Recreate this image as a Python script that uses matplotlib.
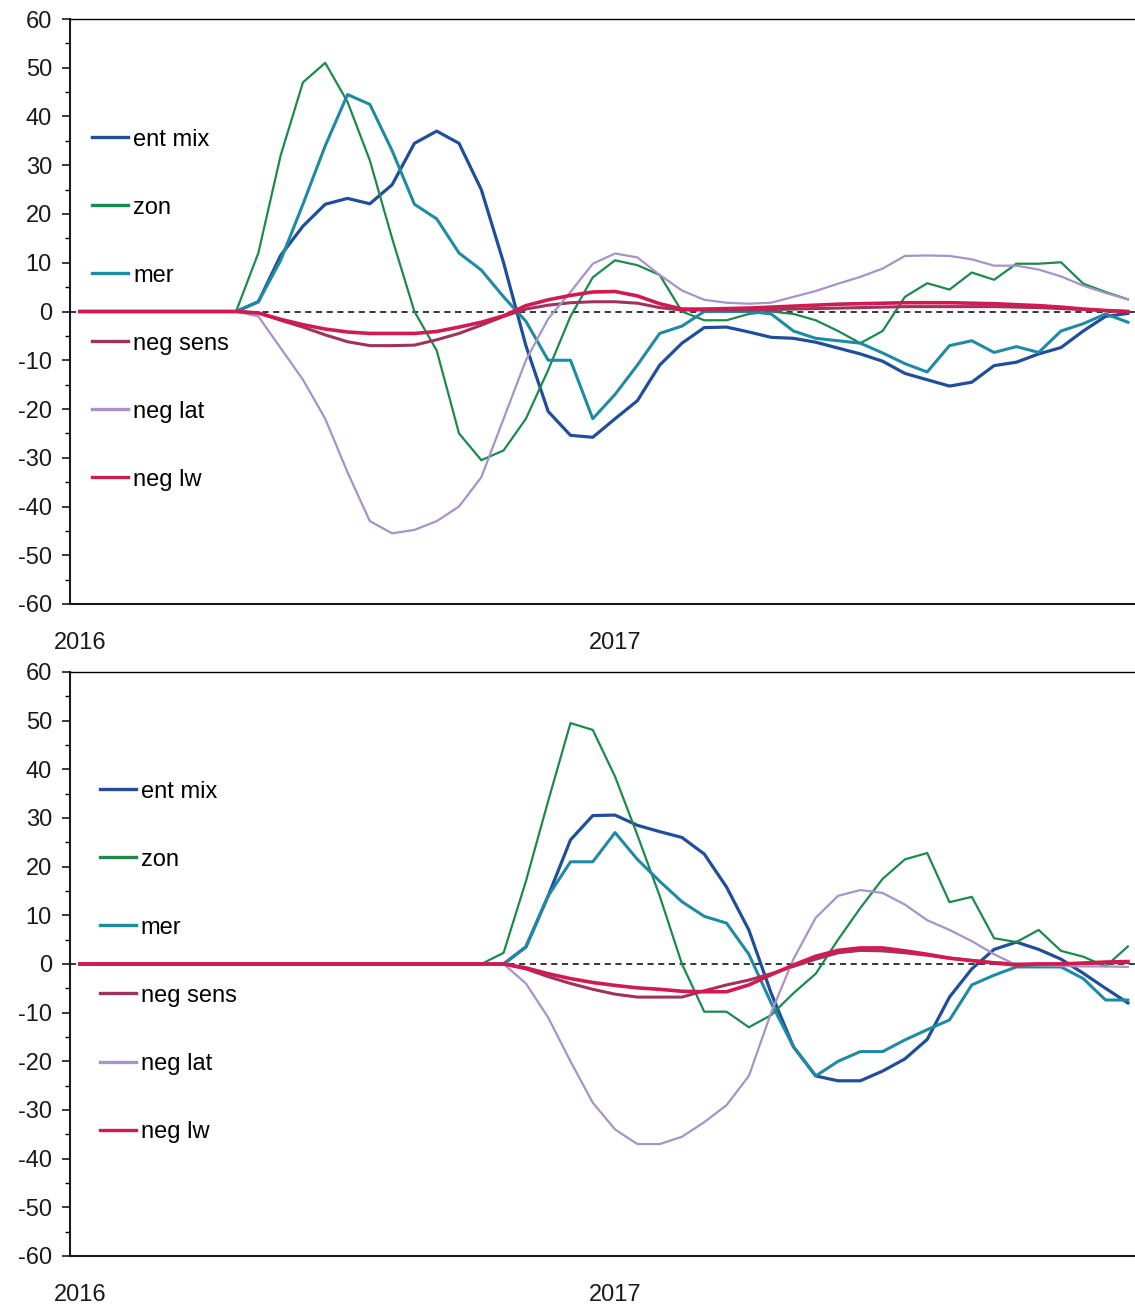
import numpy as np
import matplotlib
matplotlib.use("Agg")
import matplotlib.pyplot as plt

plt.rcParams['font.family'] = ['Liberation Sans', 'DejaVu Sans']
plt.rcParams['axes.unicode_minus'] = False

# Semi-monthly time axis, in months since January 2016
months = np.arange(48) * 0.5
year_ticks = [0, 12]
year_labels = ["2016", "2017"]

series_names = ["ent mix", "zon", "mer", "neg sens", "neg lat", "neg lw"]
series_colors = ["#1f4e9a", "#1b8a4c", "#1f8aa3", "#a0325e", "#a892c8", "#d21a50"]
series_widths = [2.3, 1.6, 2.2, 2.2, 1.6, 2.6]

# Upper panel
top_ent_mix = [0, 0, 0, 0, 0, 0, 0, 0, 2, 11.5, 17.5, 22, 23.2, 22.1, 26, 34.5,
               37, 34.5, 25, 10, -7, -20.5, -25.4, -25.8, -22, -18.3, -11, -6.5,
               -3.3, -3.2, -4.2, -5.3, -5.5, -6.3, -7.5, -8.7, -10.2, -12.7, -14,
               -15.3, -14.5, -11.1, -10.4, -8.7, -7.4, -4, -1, -0.4]
top_zon = [0, 0, 0, 0, 0, 0, 0, 0, 12, 32, 47, 51, 43, 31, 15, 0,
           -8, -25, -30.5, -28.5, -22, -12, -1, 7, 10.5, 9.5, 7.5, 0,
           -1.8, -1.8, -0.5, 0, -0.5, -1.8, -4, -6.5, -4, 3, 5.8,
           4.5, 8, 6.5, 9.8, 9.8, 10.1, 5.7, 4, 2.5]
top_mer = [0, 0, 0, 0, 0, 0, 0, 0, 2, 10.5, 22, 34, 44.5, 42.5, 33, 22,
           19, 12, 8.5, 3, -2, -10, -10, -22, -17, -11, -4.5, -3,
           0, 0, 0, -0.5, -4, -5.5, -6, -6.5, -8.5, -10.7, -12.4,
           -7, -6, -8.4, -7.2, -8.4, -4, -2.5, -0.5, -2.2]
top_neg_sens = [0, 0, 0, 0, 0, 0, 0, 0, -0.3, -1.8, -3.2, -4.8, -6.2, -7, -7, -6.9,
                -5.8, -4.5, -2.8, -1, 0.5, 1.3, 1.8, 2, 2, 1.7, 0.8, 0.3,
                0.3, 0.3, 0.3, 0.4, 0.5, 0.6, 0.7, 0.8, 0.9, 1.0, 1.0,
                1.0, 1.0, 1.0, 0.9, 0.8, 0.6, 0.4, 0.2, 0.0]
top_neg_lat = [0, 0, 0, 0, 0, 0, 0, 0, -1, -7.5, -14, -22, -33, -43, -45.5, -44.8,
               -43, -40, -34, -22, -10, -1.5, 4, 9.8, 11.9, 11.1, 7.5, 4.3,
               2.4, 1.8, 1.6, 1.8, 3, 4.2, 5.7, 7.1, 8.8, 11.4, 11.5,
               11.4, 10.7, 9.4, 9.4, 8.6, 7.2, 5.3, 3.8, 2.5]
top_neg_lw = [0, 0, 0, 0, 0, 0, 0, 0, -0.3, -1.6, -2.7, -3.6, -4.2, -4.5, -4.5, -4.5,
              -4.1, -3.2, -2.2, -0.9, 1.2, 2.4, 3.3, 4, 4.1, 3.2, 1.6, 0.5,
              0.5, 0.6, 0.7, 0.9, 1.1, 1.3, 1.5, 1.6, 1.7, 1.8, 1.8,
              1.8, 1.7, 1.6, 1.4, 1.2, 0.9, 0.5, 0.2, 0.0]

# Lower panel
bot_ent_mix = [0] * 20 + [3.5, 14, 25.5, 30.5, 30.6, 28.5, 27.2, 26,
                          22.6, 15.8, 7, -6, -17, -23, -24, -24, -22, -19.5, -15.5,
                          -6.8, -1, 3, 4.5, 3, 1, -1.9, -5, -8]
bot_zon = [0] * 19 + [2.3, 17, 33.5, 49.5, 48.1, 38.5, 26.5, 14, 0,
                      -9.8, -9.8, -13, -10.5, -6, -2, 5, 11.5, 17.5, 21.5, 22.8,
                      12.7, 13.8, 5.3, 4.5, 7, 2.7, 1.5, -0.5, 3.6]
bot_mer = [0] * 20 + [3.5, 14, 21, 21, 27, 21.5, 17, 12.8,
                      9.8, 8.4, 2, -8, -17, -23, -20, -18, -18, -15.6, -13.5,
                      -11.5, -4.3, -2.3, -0.6, -0.6, -0.6, -3, -7.4, -7.4]
bot_neg_sens = [0] * 20 + [-1, -2.6, -4, -5.2, -6.2, -6.8, -6.8, -6.8,
                           -5.5, -4.3, -3.3, -2, -0.5, 1, 2.3, 2.8, 2.7, 2.3, 1.8,
                           1.2, 0.7, 0.3, 0, 0, 0, 0.1, 0.2, 0.3]
bot_neg_lat = [0] * 20 + [-4, -11, -20, -28.5, -34, -37, -37, -35.5,
                          -32.5, -29, -23, -10, 1, 9.5, 14, 15.2, 14.6, 12.2, 9,
                          7, 4.7, 2, -0.2, -0.3, -0.4, -0.5, -0.5, -0.6]
bot_neg_lw = [0] * 20 + [-0.8, -2, -3, -3.8, -4.4, -4.9, -5.2, -5.6,
                         -5.7, -5.7, -4.3, -2.2, -0.2, 1.6, 2.8, 3.3, 3.3, 2.7, 2,
                         1.2, 0.7, 0.2, -0.2, 0, 0, 0.2, 0.4, 0.5]

panels = [
    [top_ent_mix, top_zon, top_mer, top_neg_sens, top_neg_lat, top_neg_lw],
    [bot_ent_mix, bot_zon, bot_mer, bot_neg_sens, bot_neg_lat, bot_neg_lw],
]

W, H = 1135, 1308
fig = plt.figure(figsize=(W / 100, H / 100), dpi=100)

# axes boxes in pixels: (left, top, right, bottom)
boxes = [(70, 19, 1135, 604), (70, 672, 1135, 1256)]
legend_anchor = [(0.0207, 0.8128), (0.028, 0.814)]
FS = 17

for k, (data, box) in enumerate(zip(panels, boxes)):
    l, t, r, b = box
    ax = fig.add_axes([l / W, 1 - b / H, (r - l) / W, (b - t) / H])
    ax.axhline(0, color="black", lw=1.1, ls=(0, (4, 3)), zorder=1)
    for vals, name, col, lw in zip(data, series_names, series_colors, series_widths):
        ax.plot(months, vals, color=col, lw=lw, label=name, zorder=2,
                solid_joinstyle="round")
    ax.set_ylim(-60, 60)
    ax.set_xlim(-0.224, 23.66)
    ax.set_yticks(np.arange(-60, 61, 10))
    ax.set_yticks(np.arange(-55, 60, 10), minor=True)
    ax.set_xticks(year_ticks)
    ax.set_xticklabels(year_labels)
    ax.tick_params(axis="y", which="major", direction="out", length=6, width=1.2,
                   pad=7, labelsize=FS, colors="#1a1a1a")
    ax.tick_params(axis="y", which="minor", direction="out", length=3.5, width=1.0)
    ax.tick_params(axis="x", length=0, pad=20, labelsize=FS, colors="#1a1a1a")
    for side in ("left", "bottom"):
        ax.spines[side].set_linewidth(1.5)
        ax.spines[side].set_color("#1a1a1a")
    ax.spines["top"].set_linewidth(1.0)
    ax.spines["right"].set_visible(False)
    leg = ax.legend(loc="upper left", bbox_to_anchor=legend_anchor[k], frameon=False,
                    fontsize=FS, handlelength=1.53, handletextpad=0.21,
                    labelspacing=1.95, borderpad=0, borderaxespad=0)
    for line in leg.get_lines():
        line.set_linewidth(2.4)

fig.savefig("out.png", dpi=100)
